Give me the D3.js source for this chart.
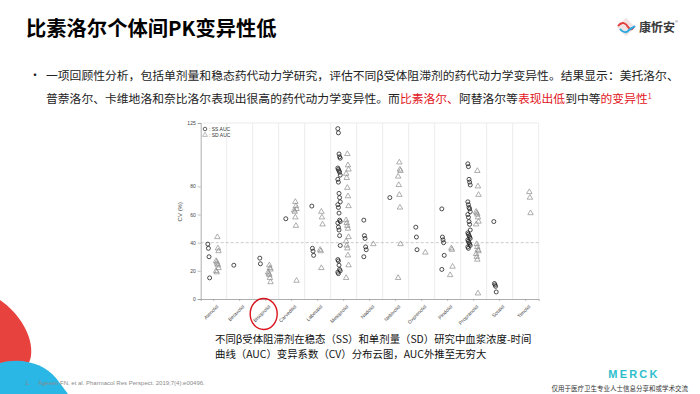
<!DOCTYPE html>
<html>
<head>
<meta charset="utf-8">
<script src="https://cdn.jsdelivr.net/npm/d3@7"></script>
<style>
  body { margin: 0; background: #fff; }
  svg { display: block; }
</style>
</head>
<body>
<div id="slide"></div>
<script>
// categories and CV values (%)
const categories = ["Atenolol", "Betaxolol", "Bisoprolol", "Carvedilol", "Labetalol", "Metoprolol",
  "Nadolol", "Nebivolol", "Oxprenolol", "Pindolol", "Propranolol", "Sotalol", "Timolol"]

const ssAuc = [
  [39, 36, 30, 15],
  [24],
  [29, 25],
  [57],
  [66, 36, 34, 31],
  [121, 118, 103, 101, 100, 93, 92, 91, 90, 88, 85, 83, 75, 72, 69, 67, 65, 61, 56, 55, 54, 51, 49, 45, 38, 28, 27, 24, 21, 20, 19, 18],
  [56, 45, 43, 37, 35, 30],
  [72],
  [51, 44, 35],
  [64, 44, 42, 40, 31, 21],
  [96, 94, 85, 83, 81, 69, 67, 65, 64, 62, 60, 58, 55, 53, 49, 47, 46, 45, 44, 43, 42, 41, 40, 39, 38, 37, 36],
  [55, 11, 10, 9, 5],
  []
]

const sdAuc = [
  [44, 36, 34, 27, 26, 25, 24, 22, 20, 19],
  [],
  [24, 22, 21, 19, 18, 17, 15, 12],
  [69, 66, 64, 63, 62, 58, 52, 13],
  [62, 58, 53, 35, 34, 22],
  [103, 95, 92, 89, 86, 79, 73, 66, 56, 54, 52, 50, 44, 41, 38, 36, 31, 24, 15],
  [39],
  [97, 92, 91, 87, 81, 74, 65, 39, 15],
  [33],
  [36, 35, 23, 17],
  [91, 80, 74, 62, 61, 60, 58, 55, 53, 39, 37, 35, 34, 32, 30, 28, 4],
  [],
  [76, 72, 61]
]

const yTicks = [0, 20, 40, 60, 80, 125]
const refLine = 40

const cjk = "'Noto Sans CJK SC', 'Noto Sans', sans-serif"
const sans = "'Liberation Sans', Arial, sans-serif"
const red = "#e2141c"

const svg = d3.select("#slide").append("svg")
  .attr("width", 700)
  .attr("height", 394)

// title
svg.append("text")
  .attr("x", 26).attr("y", 36)
  .style("font-family", cjk).style("font-size", "20.3px").style("font-weight", "bold")
  .attr("fill", "#000")
  .text("比素洛尔个体间PK变异性低")

// top right logo
const logo = svg.append("g").attr("transform", "translate(626,27)")
logo.append("rect").attr("x", -6.5).attr("y", -6.5).attr("width", 13).attr("height", 13)
  .attr("transform", "rotate(45)").attr("fill", "#f1e3e3")
logo.append("path").attr("d", "M-8,-1 C-4,-6 0,-4 2,0 C4,3 6,3 8,0")
  .attr("fill", "none").attr("stroke", "#e23b3b").attr("stroke-width", 2)
logo.append("path").attr("d", "M-6,2 C-3,6 1,6 3,3 C5,1 7,1 9,-1")
  .attr("fill", "none").attr("stroke", "#29a9e0").attr("stroke-width", 2)
svg.append("text").attr("x", 639).attr("y", 32)
  .style("font-family", cjk).style("font-size", "12px").style("font-weight", "bold")
  .attr("fill", "#3a3a3a").text("康忻安")
svg.append("text").attr("x", 675).attr("y", 23)
  .style("font-family", sans).style("font-size", "4px").attr("fill", "#555").text("®")

// bullet text
svg.append("text").attr("x", 29).attr("y", 80)
  .style("font-family", cjk).style("font-size", "12px").attr("fill", "#222").text("•")

const line1 = svg.append("text").attr("x", 46).attr("y", 80)
  .style("font-family", cjk).style("font-size", "11.8px").attr("fill", "#222")
line1.text("一项回顾性分析，包括单剂量和稳态药代动力学研究，评估不同β受体阻滞剂的药代动力学变异性。结果显示：美托洛尔、")

const line2 = svg.append("text").attr("x", 46).attr("y", 103)
  .style("font-family", cjk).style("font-size", "11.8px").attr("fill", "#222")
const parts = [
  ["普萘洛尔、卡维地洛和奈比洛尔表现出很高的药代动力学变异性。而", "#222"],
  ["比素洛尔、", red],
  ["阿替洛尔等", "#222"],
  ["表现出低", red],
  ["到中等", "#222"],
  ["的变异性", red]
]
parts.forEach(p => line2.append("tspan").attr("fill", p[1]).text(p[0]))
line2.append("tspan").attr("fill", red).attr("dy", -4).style("font-size", "7px").text("1")

// chart
const x = d3.scaleBand().domain(categories).range([200.7, 538.7])
const y = d3.scaleLinear().domain([0, 125]).range([299, 123])
const bw = x.bandwidth()
const jitter = i => ((i % 5) - 2) * 0.6

const chart = svg.append("g")

// frame and band separators
chart.append("line").attr("x1", x.range()[0]).attr("x2", x.range()[1])
  .attr("y1", y(125)).attr("y2", y(125)).attr("stroke", "#e6e6e6").attr("stroke-width", 0.8)
chart.selectAll(".sep").data(categories).enter().append("line")
  .attr("class", "sep")
  .attr("x1", d => x(d) + bw).attr("x2", d => x(d) + bw)
  .attr("y1", y(125)).attr("y2", y(0))
  .attr("stroke", "#e6e6e6").attr("stroke-width", 0.8)

chart.append("line").attr("x1", x.range()[0]).attr("x2", x.range()[1])
  .attr("y1", y(refLine)).attr("y2", y(refLine))
  .attr("stroke", "#bdbdbd").attr("stroke-width", 0.8).attr("stroke-dasharray", "3,2")

// axes
const yAxis = chart.append("g").attr("transform", "translate(" + x.range()[0] + ",0)")
  .call(d3.axisLeft(y).tickValues(yTicks).tickSize(3).tickPadding(2))
const xAxis = chart.append("g").attr("transform", "translate(0," + y(0) + ")")
  .call(d3.axisBottom(x).tickSize(2).tickPadding(3))

;[yAxis, xAxis].forEach(a => {
  a.select(".domain").attr("stroke", "#999").attr("stroke-width", 0.8)
  a.selectAll(".tick line").attr("stroke", "#999").attr("stroke-width", 0.6)
  a.selectAll("text").style("font-family", sans).style("font-size", "5px").attr("fill", "#444")
})
xAxis.selectAll("text")
  .attr("text-anchor", "end")
  .attr("transform", "translate(-1,2) rotate(-45)")

chart.append("text")
  .attr("transform", "translate(182," + y(62) + ") rotate(-90)")
  .attr("text-anchor", "middle")
  .style("font-family", sans).style("font-size", "6px").attr("fill", "#444")
  .text("CV (%)")

// points
categories.forEach((c, k) => {
  chart.selectAll(".ss" + k).data(ssAuc[k]).enter().append("circle")
    .attr("cx", (d, i) => x(c) + bw * 0.32 + jitter(i))
    .attr("cy", d => y(d))
    .attr("r", 2)
    .attr("fill", "none").attr("stroke", "#222").attr("stroke-width", 0.8)
  chart.selectAll(".sd" + k).data(sdAuc[k]).enter().append("path")
    .attr("d", d3.symbol(d3.symbolTriangle).size(13))
    .attr("transform", (d, i) => "translate(" + (x(c) + bw * 0.64 + jitter(i + 2)) + "," + y(d) + ")")
    .attr("fill", "none").attr("stroke", "#8c8c8c").attr("stroke-width", 0.7)
})

// legend
const legend = chart.append("g").attr("transform", "translate(205,129)")
legend.append("circle").attr("cx", 0).attr("cy", 0).attr("r", 1.8)
  .attr("fill", "none").attr("stroke", "#222").attr("stroke-width", 0.7)
legend.append("path").attr("d", d3.symbol(d3.symbolTriangle).size(10))
  .attr("transform", "translate(0,6)")
  .attr("fill", "none").attr("stroke", "#8c8c8c").attr("stroke-width", 0.6)
legend.append("text").attr("x", 4).attr("y", 1.8)
  .style("font-family", sans).style("font-size", "5px").attr("fill", "#333").text(": SS AUC")
legend.append("text").attr("x", 4).attr("y", 7.8)
  .style("font-family", sans).style("font-size", "5px").attr("fill", "#333").text(": SD AUC")

// highlight around Bisoprolol
chart.append("ellipse")
  .attr("cx", x("Bisoprolol") + bw / 2 - 2).attr("cy", 314)
  .attr("rx", 13.5).attr("ry", 15.5)
  .attr("fill", "none").attr("stroke", "#d9161f").attr("stroke-width", 1.4)

// caption
const cap = ["不同β受体阻滞剂在稳态（SS）和单剂量（SD）研究中血浆浓度-时间",
  "曲线（AUC）变异系数（CV）分布云图，AUC外推至无穷大"]
svg.selectAll(".cap").data(cap).enter().append("text")
  .attr("x", 215).attr("y", (d, i) => 343 + i * 15)
  .style("font-family", cjk).style("font-size", "10.4px").attr("fill", "#111")
  .text(d => d)

// decorative corner shapes
svg.append("path").attr("d", "M0,300 C18,312 34,336 31,356 C29,370 14,378 0,381 Z").attr("fill", "#e8423f")
svg.append("path").attr("d", "M0,363 C22,357 44,364 56,378 L68,394 L0,394 Z").attr("fill", "#2bb7e6")

// footnote
svg.append("text").attr("x", 25).attr("y", 385)
  .style("font-family", sans).style("font-size", "6px").attr("fill", "#8a8a8a")
  .text("1.")
svg.append("text").attr("x", 38).attr("y", 385)
  .style("font-family", sans).style("font-size", "6px").attr("fill", "#8a8a8a")
  .text("Ågesen FN, et al. Pharmacol Res Perspect. 2019;7(4):e00496.")

// bottom right
svg.append("text").attr("x", 634).attr("y", 378).attr("text-anchor", "middle")
  .style("font-family", sans).style("font-size", "11px").style("font-weight", "bold")
  .style("letter-spacing", "2.2px").attr("fill", "#2dbecd").text("MERCK")
svg.append("text").attr("x", 688).attr("y", 391).attr("text-anchor", "end")
  .style("font-family", cjk).style("font-size", "6.5px").attr("fill", "#333")
  .text("仅用于医疗卫生专业人士信息分享和或学术交流")
</script>
</body>
</html>
